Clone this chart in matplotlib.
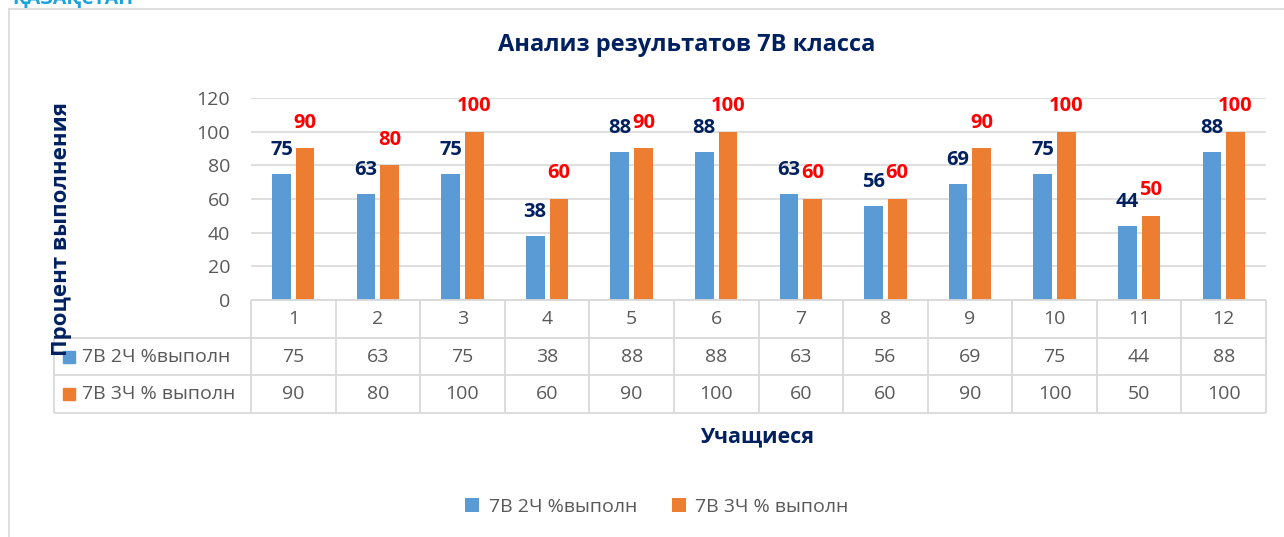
import numpy as np
import matplotlib
matplotlib.use("Agg")
from matplotlib import pyplot as plt
from matplotlib.lines import Line2D

plt.rcParams['font.family'] = ['Open Sans', 'DejaVu Sans']

# data
students = ['1', '2', '3', '4', '5', '6', '7', '8', '9', '10', '11', '12']
part2 = [75, 63, 75, 38, 88, 88, 63, 56, 69, 75, 44, 88]
part3 = [90, 80, 100, 60, 90, 100, 60, 60, 90, 100, 50, 100]
series_names = ['7В 2Ч %выполн', '7В 3Ч % выполн']
title = 'Анализ результатов 7В класса'
ylabel = 'Процент выполнения'
xlabel = 'Учащиеся'

blue = '#5B9BD5'
orange = '#ED7D31'
navy = '#002060'
grey_txt = '#595959'
grey_line = '#D9D9D9'

W, H = 1284, 537
fig = plt.figure(figsize=(W / 100, H / 100), dpi=100)

def px(x0, y0, x1, y1):
    # pixel box -> figure fraction
    return [x0 / W, 1 - y1 / H, (x1 - x0) / W, (y1 - y0) / H]

ax = fig.add_axes(px(251, 98, 1266, 300))
ax_t = fig.add_axes(px(251, 300, 1266, 413), sharex=ax)

x = np.arange(1, len(students) + 1)
w = 0.22
off = 0.14
b1 = ax.bar(x - off, part2, w, color=blue, zorder=3)
b2 = ax.bar(x + off, part3, w, color=orange, zorder=3)

for xi, v in zip(x, part2):
    ax.annotate(str(v), (xi - off, v), xytext=(0, 17), textcoords='offset points',
                ha='center', va='center', fontsize=14.5, fontweight='bold', color=navy)
for xi, v in zip(x, part3):
    ax.annotate(str(v), (xi + off, v), xytext=(0, 18.5), textcoords='offset points',
                ha='center', va='center', fontsize=14.5, fontweight='bold', color='#FF0000')

ax.set_xlim(0.5, len(students) + 0.5)
ax.set_ylim(0, 120)
ax.set_yticks(range(0, 121, 20))
ax.yaxis.grid(True, color=grey_line, lw=1.2, zorder=0)
ax.tick_params(axis='y', length=0, pad=15, labelsize=14, labelcolor=grey_txt)
ax.tick_params(axis='x', length=0, labelbottom=False)
for s in ax.spines.values():
    s.set_visible(False)

# data table under the chart
ax_t.set_ylim(3, 0)
ax_t.axis('off')
left = -1.83
lc = dict(color=grey_line, lw=1.3, clip_on=False)
ax_t.hlines(0, 0.5, len(students) + 0.5, **lc)
ax_t.hlines([1, 2, 3], left, len(students) + 0.5, **lc)
ax_t.vlines(np.arange(len(students) + 1) + 0.5, 0, 3, **lc)
ax_t.vlines(left, 1, 3, **lc)

for xi, lab in zip(x, students):
    ax_t.text(xi, 0.5, lab, ha='center', va='center', fontsize=14, color=grey_txt)
for row, (vals, col, name) in enumerate(zip([part2, part3], [blue, orange], series_names), start=1):
    for xi, v in zip(x, vals):
        ax_t.text(xi, row + 0.5, str(v), ha='center', va='center', fontsize=14, color=grey_txt)
    ax_t.plot(left + 0.183, row + 0.5, 's', color=col, ms=9, clip_on=False)
    ax_t.text(left + 0.33, row + 0.5, name, ha='left', va='center', fontsize=14, color=grey_txt)

fig.text(687 / W, 1 - 45 / H, title, ha='center', va='center', fontsize=17,
         fontweight='bold', color=navy)
fig.text(62 / W, 1 - 229 / H, ylabel, ha='center', va='center', rotation=90,
         fontsize=16, fontweight='bold', color=navy)
fig.text(758 / W, 1 - 437 / H, xlabel, ha='center', va='center', fontsize=15.5,
         fontweight='bold', color=navy)

fig.legend([b1, b2], series_names, loc='center', bbox_to_anchor=(657 / W, 1 - 507 / H),
           ncol=2, frameon=False, fontsize=14, handlelength=0.7, handleheight=0.7,
           columnspacing=1.8, handletextpad=0.5, labelcolor=grey_txt)

# outer frame and cut header text
fig.add_artist(Line2D([9 / W, 9 / W], [0, 1 - 9 / H], color=grey_line, lw=1.2))
fig.add_artist(Line2D([9 / W, 1], [1 - 9 / H, 1 - 9 / H], color=grey_line, lw=1.2))
fig.text(12 / W, 1 - 4 / H, 'ҚАЗАҚСТАН', ha='left', va='baseline', fontsize=14,
         fontweight='bold', color='#1AA3DC')

fig.savefig('out.png', dpi=100)
